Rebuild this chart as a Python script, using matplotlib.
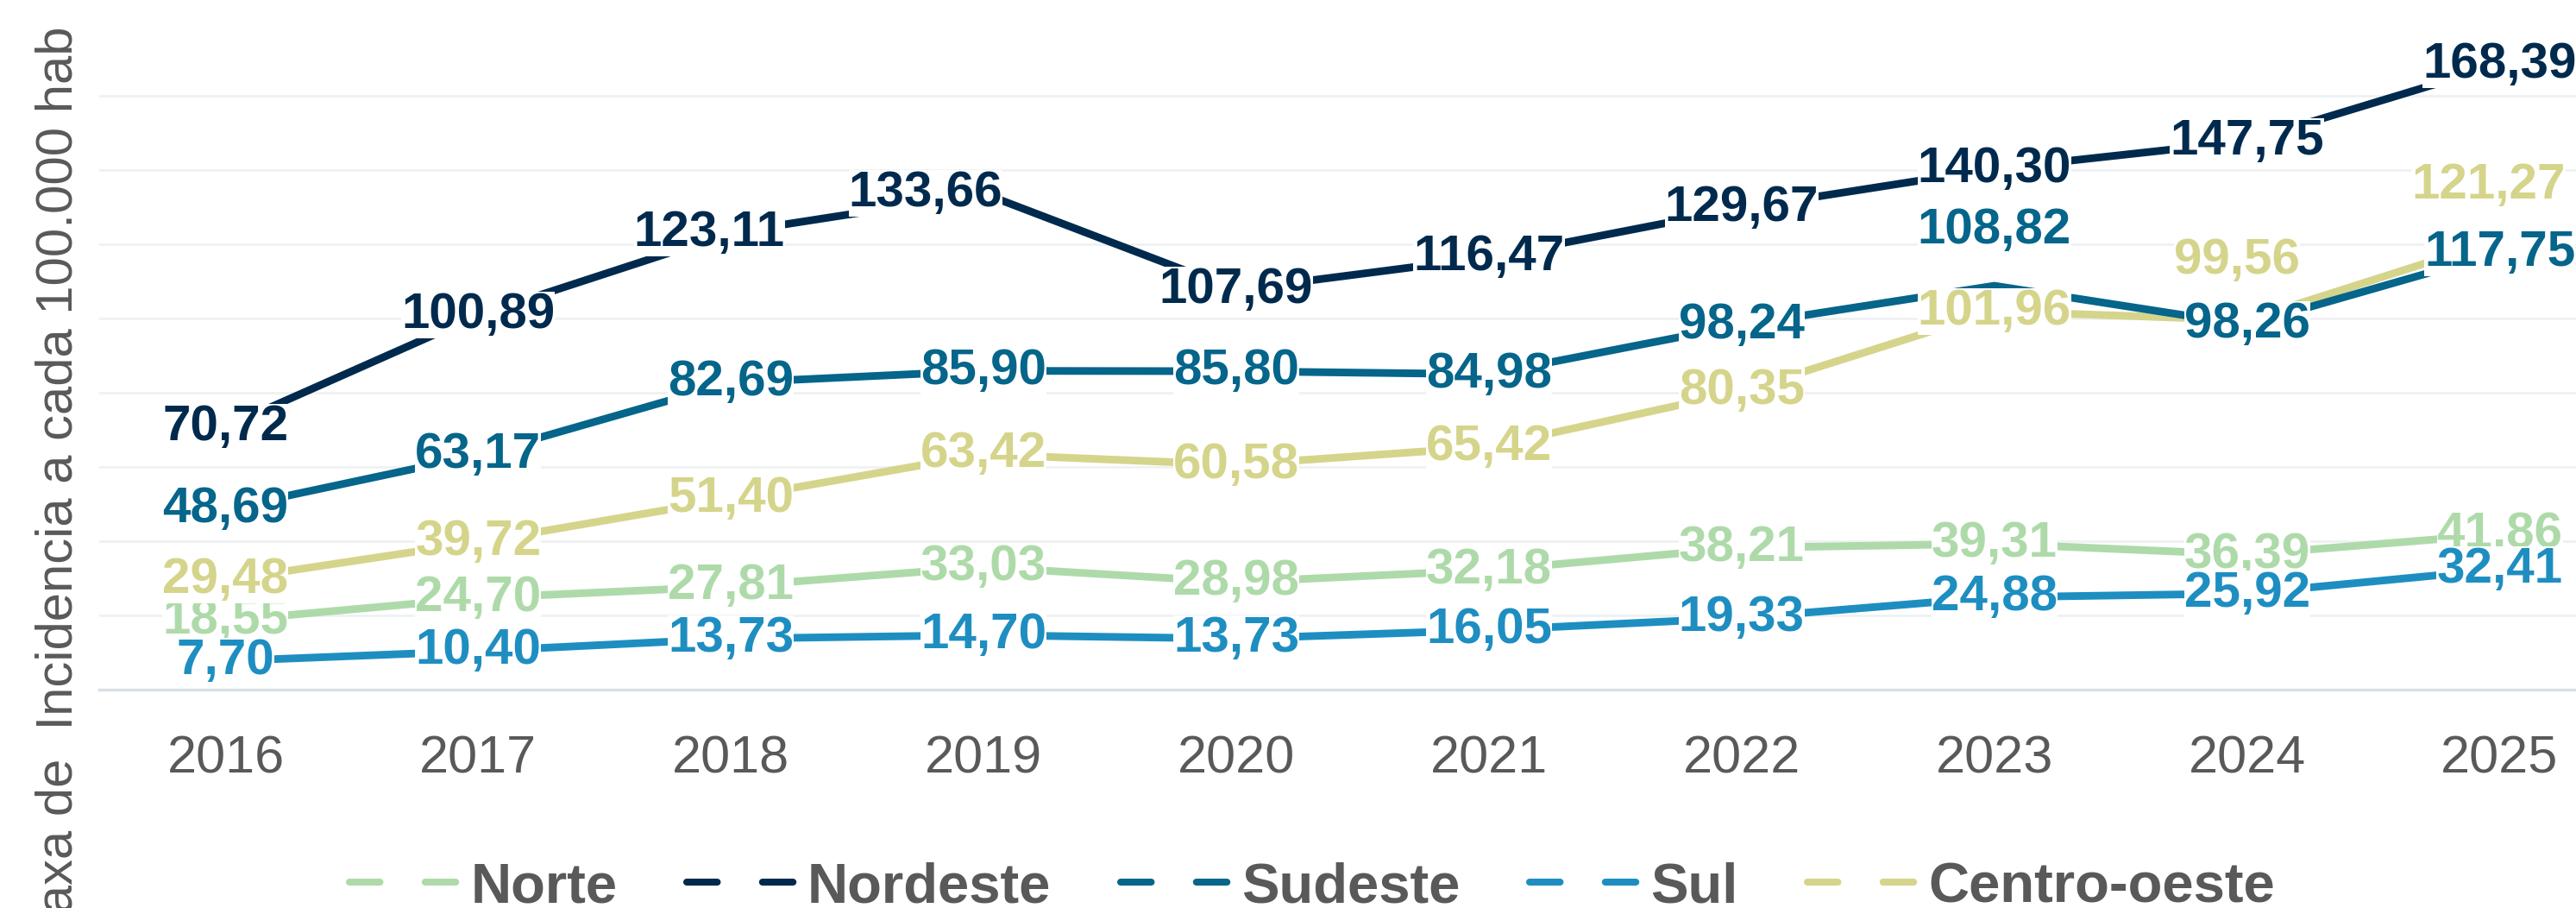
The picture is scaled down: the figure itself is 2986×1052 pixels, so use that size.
import matplotlib
matplotlib.use("Agg")
import matplotlib.pyplot as plt
from matplotlib.lines import Line2D

# ---------------- data ----------------
years = ["2016", "2017", "2018", "2019", "2020", "2021", "2022", "2023", "2024", "2025"]
series_names = ["Norte", "Nordeste", "Sudeste", "Sul", "Centro-oeste"]
norte = [18.55, 24.70, 27.81, 33.03, 28.98, 32.18, 38.21, 39.31, 36.39, 41.86]
nordeste = [70.72, 100.89, 123.11, 133.66, 107.69, 116.47, 129.67, 140.30, 147.75, 168.39]
sudeste = [48.69, 63.17, 82.69, 85.90, 85.80, 84.98, 98.24, 108.82, 98.26, 117.75]
sul = [7.70, 10.40, 13.73, 14.70, 13.73, 16.05, 19.33, 24.88, 25.92, 32.41]
centro_oeste = [29.48, 39.72, 51.40, 63.42, 60.58, 65.42, 80.35, 101.96, 99.56, 121.27]
y_label = "Taxa de  Incidencia a cada 100.000 hab"

# ---------------- style ----------------
colors = {
    "Norte": "#AEDAAA",
    "Nordeste": "#002A4D",
    "Sudeste": "#05658A",
    "Sul": "#1E8EC1",
    "Centro-oeste": "#D5D48B",
}
values = {"Norte": norte, "Nordeste": nordeste, "Sudeste": sudeste,
          "Sul": sul, "Centro-oeste": centro_oeste}
draw_order = ["Centro-oeste", "Norte", "Sul", "Sudeste", "Nordeste"]
# label offsets in pixels (dx, dy) for labels not centred on their point
label_offsets = {
    ("Nordeste", 2): (-25, 0),
    ("Nordeste", 3): (-67, 0),
    ("Sudeste", 7): (0, 64),
    ("Centro-oeste", 8): (-12, 69),
    ("Centro-oeste", 9): (-13, 63),
}
gray = "#595959"

W, H, DPI = 2986, 1052, 100
fig = plt.figure(figsize=(W / DPI, H / DPI), dpi=DPI)
px = 72.0 / DPI  # points per pixel

left_px, right_px, bottom_px, top_px = 115, 3044, 799, 0
ax = fig.add_axes([left_px / W, 1 - bottom_px / H, (right_px - left_px) / W,
                   (bottom_px - top_px) / H])
ax.set_xlim(-0.5, 9.5)
ax.set_ylim(0, 799 / 4.3)

x = list(range(len(years)))
ax.set_yticks([0, 20, 40, 60, 80, 100, 120, 140, 160])
ax.yaxis.grid(True, color="#EFF1F2", linewidth=2.0)
ax.set_axisbelow(True)
ax.tick_params(axis="y", left=False, labelleft=False)
ax.set_xticks(x)
ax.set_xticklabels(years, fontsize=44, color=gray, family=["Liberation Sans", "DejaVu Sans"])
ax.tick_params(axis="x", length=0, pad=38)
for s in ["top", "right", "left"]:
    ax.spines[s].set_visible(False)
ax.spines["bottom"].set_color("#D9DFE3")
ax.spines["bottom"].set_linewidth(2.4)

for name in draw_order:
    ax.plot(x, values[name], color=colors[name], linewidth=6.4,
            solid_capstyle="butt", zorder=3)

for name in series_names:
    for i, v in enumerate(values[name]):
        dx, dy = label_offsets.get((name, i), (0, 0))
        ax.annotate(f"{v:.2f}".replace(".", ","), (i, v),
                    xytext=(dx * px, dy * px), textcoords="offset points",
                    ha="center", va="center", fontsize=42, fontweight="bold",
                    family=["Liberation Sans", "DejaVu Sans"], color=colors[name],
                    zorder=5,
                    bbox=dict(facecolor="white", edgecolor="none", pad=0))

fig.text(84 / W, 1 - 30 / H, y_label, rotation=90, rotation_mode="anchor",
         ha="right", va="baseline", fontsize=43, color=gray,
         family=["Liberation Sans", "DejaVu Sans"])

handles = [Line2D([0], [0], color=colors[n], linewidth=5.8, dashes=(4.4, 6.5),
                  dash_capstyle="round") for n in series_names]
leg = fig.legend(handles, series_names, loc="center left",
                 bbox_to_anchor=(405 / W, (H - 1028) / H), ncol=5, frameon=False,
                 borderpad=0, borderaxespad=0, handlelength=1.95, handletextpad=0.2,
                 columnspacing=1.23,
                 prop=dict(family=["Liberation Sans", "DejaVu Sans"], weight="bold", size=47))
for t in leg.get_texts():
    t.set_color(gray)

fig.savefig("out.png", dpi=DPI, facecolor="white")
